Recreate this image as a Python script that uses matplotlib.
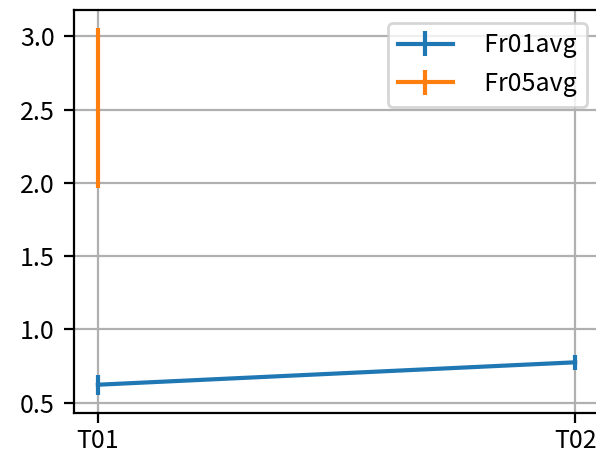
import numpy as np
import matplotlib
matplotlib.use("Agg")
import matplotlib.pyplot as plt

plt.rcParams["font.family"] = ["Noto Sans CJK SC", "DejaVu Sans"]
plt.rcParams["font.size"] = 9
plt.rcParams["axes.unicode_minus"] = False

times = ["T01", "T02"]
fr01_mean = [0.622, 0.775]
fr01_err = [0.068, 0.052]
fr05_mean = [2.51, np.nan]
fr05_err = [0.545, np.nan]

dpi = 200
fig = plt.figure(figsize=(596 / dpi, 454 / dpi), dpi=dpi)
ax = fig.add_axes([74 / 596, 41 / 454, 525 / 596, 403 / 454])

ax.errorbar(times, fr01_mean, yerr=fr01_err, label="  Fr01avg")
ax.errorbar(times, fr05_mean, yerr=fr05_err, label="  Fr05avg")

ax.set_yticks([0.5, 1.0, 1.5, 2.0, 2.5, 3.0])
ax.tick_params(axis="x", pad=2)
ax.grid(True)
ax.legend(loc="upper right", handlelength=2.2)

fig.savefig("out.png", dpi=dpi)
plt.close(fig)
